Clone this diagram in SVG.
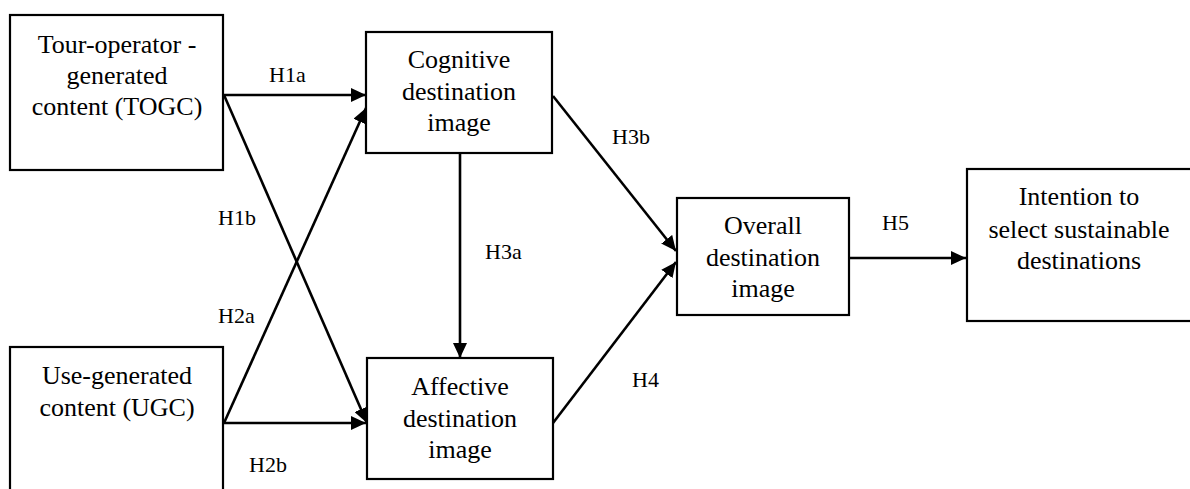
<svg xmlns="http://www.w3.org/2000/svg" width="1190" height="489" viewBox="0 0 1190 489">
<defs>
<style>
.box{fill:#fff;stroke:#000;stroke-width:2.2}
.t{font-family:"Liberation Serif",serif;font-size:26px;fill:#000;text-anchor:middle}
.lb{font-family:"Liberation Serif",serif;font-size:22px;fill:#000}
.c{stroke:#000;stroke-width:2.6;fill:none;marker-end:url(#ah)}
</style>
<marker id="ah" markerUnits="userSpaceOnUse" markerWidth="16" markerHeight="14" refX="15" refY="7" orient="auto">
<path d="M0,0 L15,7 L0,14 z" fill="#000"/>
</marker>
</defs>
<rect width="1190" height="489" fill="#fff"/>
<g id="connectors">
<line class="c" x1="224" y1="95" x2="366" y2="95"/>
<line class="c" x1="224" y1="95" x2="367" y2="423"/>
<line class="c" x1="224" y1="423" x2="366" y2="108"/>
<line class="c" x1="224" y1="423" x2="366" y2="423"/>
<line class="c" x1="460" y1="153" x2="460" y2="358"/>
<line class="c" x1="553" y1="96" x2="676" y2="251"/>
<line class="c" x1="553" y1="423" x2="676" y2="262"/>
<line class="c" x1="849" y1="258" x2="966" y2="258"/>
<text class="lb" x="269" y="82">H1a</text>
<text class="lb" x="218" y="225">H1b</text>
<text class="lb" x="218" y="323">H2a</text>
<text class="lb" x="249" y="472">H2b</text>
<text class="lb" x="485" y="259">H3a</text>
<text class="lb" x="612" y="144">H3b</text>
<text class="lb" x="632" y="387">H4</text>
<text class="lb" x="882" y="230">H5</text>
</g>
<g id="togc">
<rect class="box" x="10" y="15" width="213" height="155"/>
<text class="t" x="117" y="53">Tour-operator -</text>
<text class="t" x="117" y="84">generated</text>
<text class="t" x="117" y="115">content (TOGC)</text>
</g>
<g id="ugc">
<rect class="box" x="10" y="347" width="213" height="160"/>
<text class="t" x="117" y="384">Use-generated</text>
<text class="t" x="117" y="416">content (UGC)</text>
</g>
<g id="cognitive">
<rect class="box" x="366" y="32" width="186" height="121"/>
<text class="t" x="459" y="68">Cognitive</text>
<text class="t" x="459" y="100">destination</text>
<text class="t" x="459" y="131">image</text>
</g>
<g id="affective">
<rect class="box" x="367" y="358" width="186" height="121"/>
<text class="t" x="460" y="395">Affective</text>
<text class="t" x="460" y="427">destination</text>
<text class="t" x="460" y="458">image</text>
</g>
<g id="overall">
<rect class="box" x="677" y="198" width="172" height="117"/>
<text class="t" x="763" y="234">Overall</text>
<text class="t" x="763" y="266">destination</text>
<text class="t" x="763" y="297">image</text>
</g>
<g id="intention">
<rect class="box" x="967" y="169" width="240" height="152"/>
<text class="t" x="1079" y="205">Intention to</text>
<text class="t" x="1079" y="238">select sustainable</text>
<text class="t" x="1079" y="269">destinations</text>
</g>
</svg>
